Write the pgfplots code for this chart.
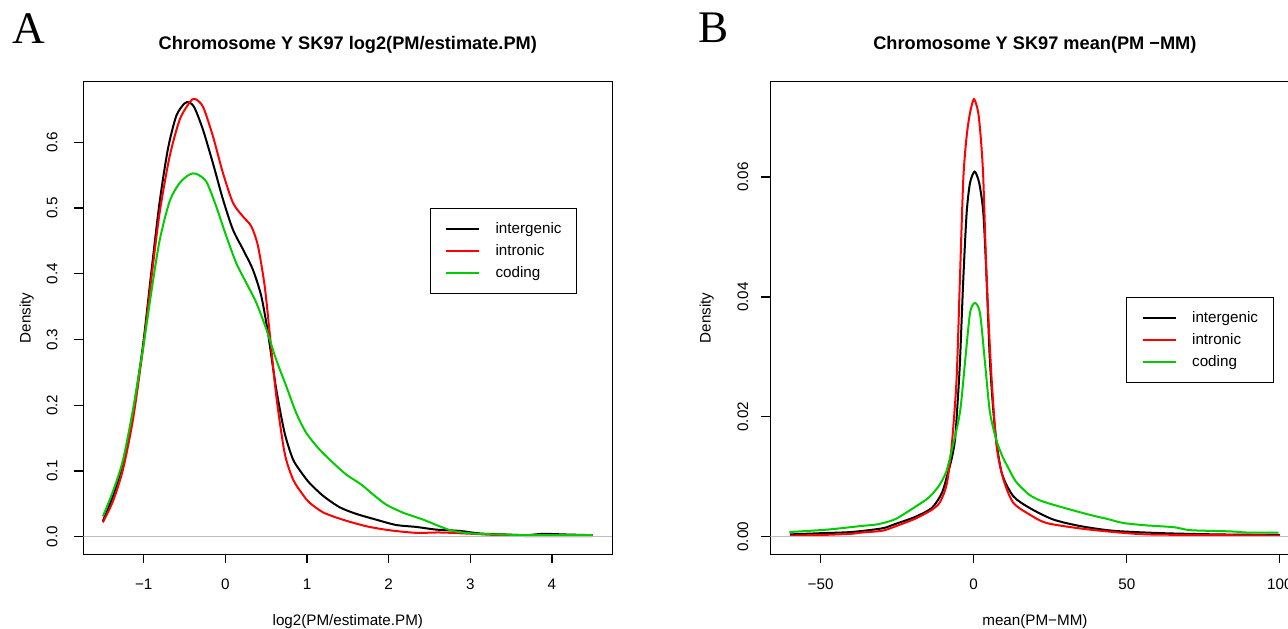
\documentclass[border=0pt]{standalone}
\usepackage{pgfplots}
\pgfplotsset{compat=1.18}
\usepackage{fontspec}
\setmainfont{Liberation Sans}
\newfontfamily\letterfont{Liberation Serif}
\definecolor{rgreen}{HTML}{00CD00}
\definecolor{rgray}{HTML}{BEBEBE}
\newcommand{\rfont}{\fontsize{7.6}{9}\selectfont}
\pgfplotsset{
  rplot/.style={
    scale only axis, width=264.5pt, height=236.3pt,
    anchor=south west,
    axis line style={line width=0.6pt},
    tick align=outside, xtick pos=bottom, ytick pos=left,
    major tick length=4.5pt,
    major tick style={black, line width=0.6pt},
    scaled ticks=false,
    tick label style={font=\rfont},
    label style={font=\rfont},
    title style={font=\bfseries\fontsize{9.1}{11}\selectfont, at={(0.5,1.0421)}, anchor=base},
    xlabel style={at={(0.5,-0.150)}, anchor=base},
    xticklabel style={anchor=base, inner sep=0pt, yshift=-13.3pt},
    legend cell align=left,
    legend image code/.code={\draw[##1] (0pt,0pt) -- (16.5pt,0pt); \path (24.25pt,0pt);},
    legend style={draw=black, line width=0.5pt, fill=white, font=\rfont\strut,
      inner xsep=7.5pt, inner ysep=6.2pt, row sep=3.2pt, nodes={inner sep=0pt}, anchor=north west},
    every axis plot/.append style={line width=1pt},
  }
}
\begin{document}
\begin{tikzpicture}
\useasboundingbox (0,0) rectangle (644pt,314pt);
\node[anchor=base west, inner sep=0pt, font=\letterfont\fontsize{22.6}{24}\selectfont] at (6pt,292.35pt) {A};
\node[anchor=base west, inner sep=0pt, font=\letterfont\fontsize{22.6}{24}\selectfont] at (349pt,292.65pt) {B};

\begin{axis}[rplot, at={(41.65pt,36.85pt)},
  xmin=-1.74, xmax=4.74, ymin=-0.0266, ymax=0.692,
  xtick={-1,0,1,2,3,4}, xticklabels={−1,0,1,2,3,4},
  ytick={0,0.1,0.2,0.3,0.4,0.5,0.6}, yticklabels={0.0,0.1,0.2,0.3,0.4,0.5,0.6},
  yticklabel style={xshift=-11.1pt, rotate=90, anchor=center, inner sep=0pt},
  ylabel style={at={(-0.107,0.5)}, anchor=center},
  title={Chromosome Y SK97 log2(PM/estimate.PM)},
  xlabel={log2(PM/estimate.PM)}, ylabel={Density},
  legend style={at={(0.6546,0.7321)}},
]
\addplot[black, smooth, tension=0.45] coordinates {
(-1.5,0.024) (-1.377,0.062) (-1.255,0.1125) (-1.132,0.188) (-1.01,0.29) (-0.908,0.401) (-0.806,0.508) (-0.703,0.590) (-0.601,0.640) (-0.5,0.659) (-0.44,0.6605) (-0.376,0.652) (-0.274,0.619) (-0.152,0.568) (-0.029,0.513) (0.093,0.467) (0.216,0.437) (0.338,0.406) (0.44,0.366) (0.522,0.31) (0.624,0.224) (0.726,0.158) (0.828,0.118) (0.93,0.098) (1.03,0.082) (1.2,0.062) (1.4,0.045) (1.6,0.035) (1.85,0.026) (2.09,0.018) (2.34,0.015) (2.58,0.011) (2.87,0.009) (3.12,0.005) (3.44,0.0035) (3.69,0.0025) (3.89,0.0045) (4.18,0.0035) (4.5,0.0025)};
\addlegendentry{intergenic}
\addplot[red, smooth, tension=0.45] coordinates {
(-1.5,0.022) (-1.377,0.054) (-1.255,0.102) (-1.132,0.178) (-1.01,0.285) (-0.908,0.391) (-0.806,0.492) (-0.683,0.578) (-0.56,0.634) (-0.438,0.6605) (-0.376,0.666) (-0.274,0.654) (-0.152,0.609) (-0.029,0.553) (0.093,0.508) (0.216,0.487) (0.318,0.472) (0.4,0.442) (0.482,0.381) (0.543,0.31) (0.624,0.214) (0.726,0.1275) (0.83,0.087) (0.95,0.064) (1.03,0.052) (1.2,0.037) (1.44,0.026) (1.73,0.016) (2.01,0.010) (2.34,0.006) (2.62,0.0066) (2.95,0.005) (3.36,0.0025) (3.77,0.001) (4.5,0.001)};
\addlegendentry{intronic}
\addplot[rgreen, smooth, tension=0.45] coordinates {
(-1.5,0.031) (-1.377,0.069) (-1.255,0.116) (-1.132,0.193) (-1.01,0.285) (-0.908,0.371) (-0.806,0.450) (-0.683,0.510) (-0.56,0.538) (-0.438,0.551) (-0.356,0.552) (-0.233,0.540) (-0.111,0.502) (0.012,0.457) (0.134,0.416) (0.257,0.386) (0.379,0.356) (0.501,0.316) (0.624,0.269) (0.746,0.229) (0.869,0.188) (0.991,0.158) (1.154,0.1327) (1.32,0.1125) (1.48,0.0947) (1.665,0.0795) (1.81,0.0643) (1.97,0.049) (2.18,0.0365) (2.42,0.0263) (2.62,0.0162) (2.79,0.0088) (3.03,0.005) (3.36,0.0035) (3.77,0.0025) (4.5,0.0025)};
\addlegendentry{coding}
\addplot[rgray, line width=0.5pt, forget plot] coordinates {(-1.74,0) (4.74,0)};
\end{axis}

\begin{axis}[rplot, at={(385.2pt,36.85pt)},
  xmin=-66.4, xmax=106.4, ymin=-0.00292, ymax=0.0759,
  xtick={-50,0,50,100}, xticklabels={−50,0,50,100},
  ytick={0,0.02,0.04,0.06}, yticklabels={0.00,0.02,0.04,0.06},
  yticklabel style={xshift=-9.3pt, rotate=90, anchor=center, inner sep=0pt},
  ylabel style={at={(-0.1204,0.5)}, anchor=center},
  title={Chromosome Y SK97 mean(PM −MM)},
  xlabel={mean(PM−MM)}, ylabel={Density},
  legend style={at={(0.6725,0.5438)}},
]
\addplot[black, smooth, tension=0.45] coordinates {
(-60,0.0004) (-50,0.0006) (-40,0.0008) (-30,0.0014) (-25.8,0.0021) (-19.2,0.0033) (-13.7,0.0048) (-10.4,0.0073) (-8.5,0.0105) (-7.2,0.0130) (-6.1,0.0162) (-5.3,0.022) (-4.5,0.029) (-3.4,0.0429) (-2.3,0.054) (-1.2,0.0590) (0.3,0.0609) (1.8,0.0590) (3.15,0.054) (4.24,0.0429) (5.33,0.029) (6.96,0.0179) (9.14,0.0107) (12.9,0.0068) (18.3,0.0048) (25.9,0.0029) (34.7,0.0018) (45.7,0.0010) (62,0.0006) (80,0.0004) (100,0.0003)};
\addlegendentry{intergenic}
\addplot[red, smooth, tension=0.45] coordinates {
(-60,0.0002) (-50,0.0003) (-40,0.0005) (-36.8,0.0007) (-30,0.0010) (-25.8,0.0017) (-19.2,0.0030) (-13.7,0.0045) (-11,0.0058) (-8.8,0.0088) (-7.2,0.0151) (-5.6,0.0262) (-4.5,0.0429) (-3.4,0.0596) (-2.3,0.0668) (-1.2,0.0707) (0.1,0.0730) (1.5,0.0707) (2.4,0.0660) (3.15,0.0596) (4.24,0.0429) (5.87,0.0262) (7.5,0.0151) (9.7,0.0096) (12.9,0.0057) (18.3,0.0037) (23.8,0.0023) (34.7,0.0014) (45.7,0.0008) (56.6,0.0004) (75,0.0003) (100,0.0002)};
\addlegendentry{intronic}
\addplot[rgreen, smooth, tension=0.45] coordinates {
(-60.2,0.0008) (-47.8,0.0012) (-36.8,0.0018) (-31.3,0.0021) (-25.8,0.0029) (-20.3,0.0046) (-14.8,0.0065) (-11.5,0.0084) (-9,0.0108) (-7,0.0148) (-4.5,0.0207) (-2.85,0.029) (-1.2,0.0373) (0.4,0.0390) (2.06,0.0373) (3.7,0.029) (5.33,0.0207) (7.5,0.0160) (9.4,0.0134) (11,0.0118) (13.8,0.0092) (18.2,0.0070) (22,0.0060) (27,0.0052) (34.7,0.0041) (40,0.0034) (43.5,0.0030) (48.9,0.0023) (56.6,0.0019) (65.4,0.0016) (70.9,0.0011) (84.1,0.0009) (89.6,0.0007) (99.5,0.0007)};
\addlegendentry{coding}
\addplot[rgray, line width=0.5pt, forget plot] coordinates {(-66.4,0) (106.4,0)};
\end{axis}
\end{tikzpicture}
\end{document}
